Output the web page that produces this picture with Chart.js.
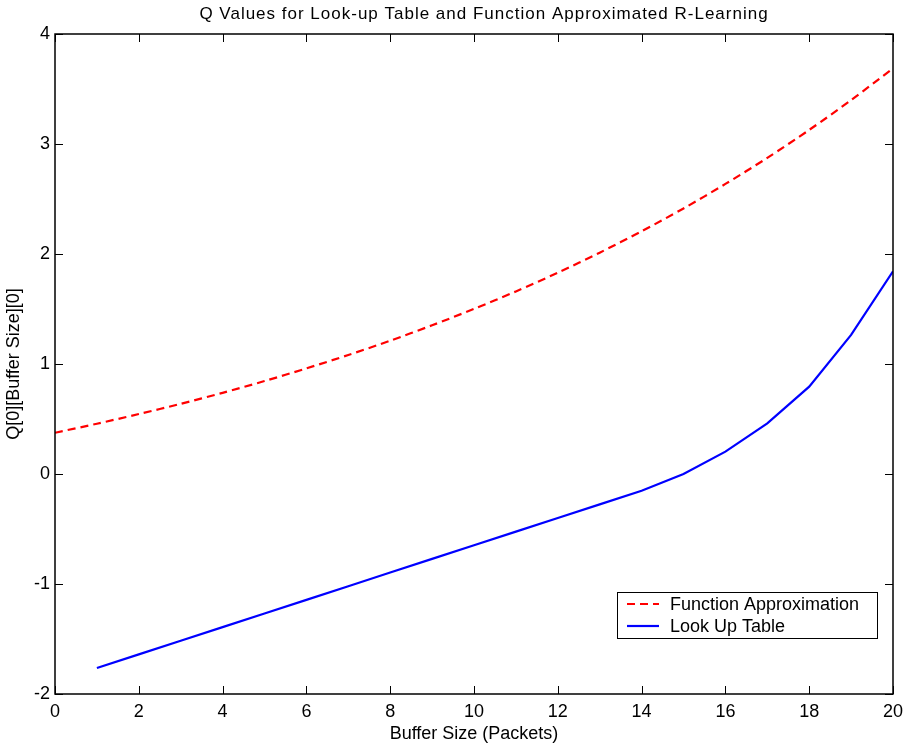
<!DOCTYPE html>
<html>
<head>
<meta charset="utf-8">
<script src="https://cdn.jsdelivr.net/npm/chart.js@4/dist/chart.umd.min.js"></script>
<style>
html,body{margin:0;padding:0;background:#fff;}
#wrap{width:907px;height:748px;}
</style>
</head>
<body>
<div id="wrap"><canvas id="c" width="907" height="748"></canvas></div>
<script>
const titleText = "Q Values for Look-up Table and Function Approximated R-Learning";
const xLabel = "Buffer Size (Packets)";
const yLabel = "Q[0][Buffer Size][0]";
const seriesNames = ["Function Approximation", "Look Up Table"];

const fxBuffer = [0,1,2,3,4,5,6,7,8,9,10,11,12,13,14,15,16,17,18,19,20];
const fxValues = [0.375,0.457,0.545,0.638,0.738,0.845,0.960,1.082,1.212,1.352,1.501,1.660,1.830,2.012,2.207,2.414,2.637,2.874,3.128,3.399,3.688];

const lutBuffer = [1,2,3,4,5,6,7,8,9,10,11,12,13,14,15,16,17,18,19,20];
const lutValues = [-1.764,-1.640,-1.516,-1.392,-1.268,-1.144,-1.020,-0.896,-0.772,-0.648,-0.524,-0.400,-0.276,-0.152,0.000,0.203,0.460,0.794,1.264,1.843];

const xMin = 0, xMax = 20, xStep = 2;
const yMin = -2, yMax = 4, yStep = 1;

const FONT = "'Liberation Sans', Arial, Helvetica, sans-serif";

const toPts = (xs, ys) => xs.map((x, i) => ({x: x, y: ys[i]}));

const framePlugin = {
  id: 'frame',
  afterDraw(chart) {
    const ctx = chart.ctx;
    const a = chart.chartArea;
    const xs = chart.scales.x, ys = chart.scales.y;
    ctx.save();
    // frame
    ctx.strokeStyle = '#000';
    ctx.lineWidth = 1.5;
    ctx.strokeRect(a.left, a.top, a.right - a.left, a.bottom - a.top);
    // inner ticks
    ctx.lineWidth = 1;
    const tl = 8;
    ctx.beginPath();
    xs.ticks.forEach(t => {
      const p = Math.round(xs.getPixelForValue(t.value)) + 0.5;
      ctx.moveTo(p, a.bottom); ctx.lineTo(p, a.bottom - tl);
      ctx.moveTo(p, a.top); ctx.lineTo(p, a.top + tl);
    });
    ys.ticks.forEach(t => {
      const p = Math.round(ys.getPixelForValue(t.value)) + 0.5;
      ctx.moveTo(a.left, p); ctx.lineTo(a.left + tl, p);
      ctx.moveTo(a.right, p); ctx.lineTo(a.right - tl, p);
    });
    ctx.stroke();
    // title
    ctx.fillStyle = '#000';
    ctx.font = '17px ' + FONT;
    try { ctx.letterSpacing = '1px'; } catch (e) {}
    ctx.textAlign = 'center';
    ctx.textBaseline = 'middle';
    ctx.fillText(titleText, 484, 14);
    try { ctx.letterSpacing = '0px'; } catch (e) {}
    // legend
    const lx = 617, ly = 592, lw = 260, lh = 46;
    ctx.fillStyle = '#fff';
    ctx.fillRect(lx, ly, lw, lh);
    ctx.lineWidth = 1;
    ctx.strokeStyle = '#000';
    ctx.strokeRect(lx + 0.5, ly + 0.5, lw, lh);
    chart.data.datasets.forEach((ds, i) => {
      const yy = ly + 12 + i * 22;
      ctx.beginPath();
      ctx.strokeStyle = ds.borderColor;
      ctx.lineWidth = ds.borderWidth;
      ctx.setLineDash(ds.borderDash || []);
      ctx.moveTo(lx + 10, yy); ctx.lineTo(lx + 42, yy);
      ctx.stroke();
      ctx.setLineDash([]);
      ctx.fillStyle = '#000';
      ctx.textAlign = 'left';
      ctx.font = '18px ' + FONT;
      ctx.fillText(ds.label, lx + 53, yy + 1);
    });
    ctx.restore();
  }
};

new Chart(document.getElementById('c'), {
  type: 'line',
  data: {
    datasets: [
      {
        label: seriesNames[0],
        data: toPts(fxBuffer, fxValues),
        borderColor: '#ff0000',
        borderWidth: 2.2,
        borderDash: [8, 5],
        pointRadius: 0,
        tension: 0.3,
        fill: false
      },
      {
        label: seriesNames[1],
        data: toPts(lutBuffer, lutValues),
        borderColor: '#0000ff',
        borderWidth: 2.2,
        pointRadius: 0,
        tension: 0,
        fill: false
      }
    ]
  },
  options: {
    responsive: false,
    animation: false,
    events: [],
    layout: {padding: {left: 0, right: 14, top: 34, bottom: 0}},
    plugins: {legend: {display: false}, title: {display: false}, tooltip: {enabled: false}},
    scales: {
      x: {
        type: 'linear', min: xMin, max: xMax,
        ticks: {stepSize: xStep, color: '#000', font: {family: FONT, size: 18}, padding: 7, maxRotation: 0},
        grid: {display: false, drawTicks: false},
        border: {display: false},
        title: {display: true, text: xLabel, color: '#000', font: {family: FONT, size: 18}, padding: {top: 0, bottom: 3}},
        afterFit(s) { s.height = 54; s.paddingLeft = 0; s.paddingRight = 0; }
      },
      y: {
        type: 'linear', min: yMin, max: yMax,
        ticks: {stepSize: yStep, color: '#000', font: {family: FONT, size: 18}, padding: 5},
        grid: {display: false, drawTicks: false},
        border: {display: false},
        title: {display: true, text: yLabel, color: '#000', font: {family: FONT, size: 18}, padding: {top: 3, bottom: 0}},
        afterFit(s) { s.width = 55; s.paddingTop = 0; s.paddingBottom = 0; }
      }
    }
  },
  plugins: [framePlugin]
});
</script>
</body>
</html>
